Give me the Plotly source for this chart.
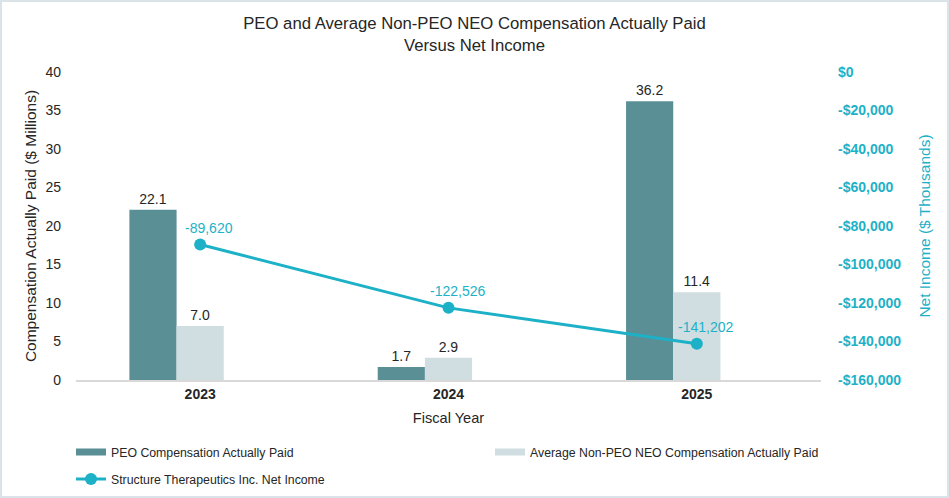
import plotly.graph_objects as go

years = ["2023", "2024", "2025"]
peo_cap = [22.1, 1.7, 36.2]
neo_cap = [7.0, 2.9, 11.4]
net_income = [-89620, -122526, -141202]

left_ticks = [0, 5, 10, 15, 20, 25, 30, 35, 40]
right_tickvals = [0, -20000, -40000, -60000, -80000, -100000, -120000, -140000, -160000]
right_ticktext = ["$0", "-$20,000", "-$40,000", "-$60,000", "-$80,000",
                  "-$100,000", "-$120,000", "-$140,000", "-$160,000"]

PEO_COLOR = "#5A8F96"
NEO_COLOR = "#D0DDE1"
LINE_COLOR = "#1DB1C7"
TEXT = "#262626"
FONT = "Liberation Sans, Arial, sans-serif"

W, H = 949, 498
ML, MR, MT, MB = 76, 128, 72, 118
PW, PH = W - ML - MR, H - MT - MB

fig = go.Figure()

fig.add_trace(go.Bar(
    x=years, y=peo_cap, name="PEO Compensation Actually Paid",
    marker=dict(color=PEO_COLOR, line=dict(width=0)),
    width=0.19, offset=-0.285,
    text=[f"{v:.1f}" for v in peo_cap], textposition="outside",
    textfont=dict(size=14, color=TEXT, family=FONT), cliponaxis=False,
    showlegend=False,
))
fig.add_trace(go.Bar(
    x=years, y=neo_cap, name="Average Non-PEO NEO Compensation Actually Paid",
    marker=dict(color=NEO_COLOR, line=dict(width=0)),
    width=0.19, offset=-0.095,
    text=[f"{v:.1f}" for v in neo_cap], textposition="outside",
    textfont=dict(size=14, color=TEXT, family=FONT), cliponaxis=False,
    showlegend=False,
))
fig.add_trace(go.Scatter(
    x=years, y=net_income, yaxis="y2", mode="lines+markers",
    name="Structure Therapeutics Inc. Net Income",
    line=dict(color=LINE_COLOR, width=3),
    marker=dict(size=12, color=LINE_COLOR),
    cliponaxis=False, legend="legend2",
))

# legend swatches for the bar series (wide flat swatches like the original)
fig.add_trace(go.Scatter(x=[None], y=[None], mode="lines",
                         name="PEO Compensation Actually Paid",
                         line=dict(color=PEO_COLOR, width=7), legend="legend",
                         hoverinfo="skip"))
fig.add_trace(go.Scatter(x=[None], y=[None], mode="lines",
                         name="Average Non-PEO NEO Compensation Actually Paid",
                         line=dict(color=NEO_COLOR, width=7), legend="legend3",
                         hoverinfo="skip"))

for i, v in enumerate(net_income):
    fig.add_annotation(x=i, y=v, yref="y2", text=f"{v:,}", showarrow=False,
                       xshift=9, yshift=17,
                       font=dict(size=14, color=LINE_COLOR, family=FONT))

# light frame around the chart
fig.add_shape(type="rect", xref="paper", yref="paper",
              x0=(1 - ML) / PW, x1=(W - 1 - ML) / PW,
              y0=(1 - MB) / PH, y1=(H - 1 - MB) / PH,
              line=dict(color="#DAE3E8", width=2), fillcolor="rgba(0,0,0,0)",
              layer="below")

leg_common = dict(orientation="h", xref="container", yref="container",
                  xanchor="left", yanchor="middle",
                  font=dict(size=12.3, color=TEXT, family=FONT), itemwidth=30,
                  bgcolor="rgba(0,0,0,0)")

fig.update_layout(
    width=W, height=H,
    margin=dict(l=ML, r=MR, t=MT, b=MB, pad=0, autoexpand=False),
    paper_bgcolor="white", plot_bgcolor="white",
    font=dict(family=FONT, color=TEXT, size=14),
    title=dict(text="PEO and Average Non-PEO NEO Compensation Actually Paid<br>Versus Net Income",
               x=0.5, xref="container", xanchor="center",
               y=1 - 29 / H, yref="container", yanchor="top",
               font=dict(size=16.7, color=TEXT, family=FONT)),
    barmode="overlay",
    xaxis=dict(type="category", categoryorder="array", categoryarray=years,
               range=[-0.5, 2.5], automargin=False,
               showline=True, linecolor="#D9D9D9", linewidth=1.5,
               showgrid=False, zeroline=False, ticks="",
               tickfont=dict(size=14, color=TEXT, family=FONT, weight="bold"),
               title=dict(text="Fiscal Year", font=dict(size=14.6, color=TEXT), standoff=12)),
    yaxis=dict(range=[0, 40], tickvals=left_ticks, showgrid=False, zeroline=False,
               showline=False, ticks="", ticklabelstandoff=14, automargin=False,
               tickfont=dict(size=14, color=TEXT),
               title=dict(text="Compensation Actually Paid ($ Millions)",
                          font=dict(size=15.5, color=TEXT), standoff=4)),
    yaxis2=dict(range=[-160000, 0], overlaying="y", side="right", automargin=False,
                tickvals=right_tickvals, ticktext=right_ticktext,
                showgrid=False, zeroline=False, showline=False, ticks="",
                ticklabelstandoff=16,
                tickfont=dict(size=14, color=LINE_COLOR, weight="bold"),
                title=dict(text="Net Income ($ Thousands)",
                           font=dict(size=15.5, color=LINE_COLOR), standoff=18)),
    legend=dict(x=71 / W, y=1 - 452 / H, **leg_common),
    legend3=dict(x=490 / W, y=1 - 452 / H, **leg_common),
    legend2=dict(x=71 / W, y=1 - 479 / H, **leg_common),
)

fig.write_html("out.html", config={"displayModeBar": False},
               post_script="document.body.style.margin='0';")
